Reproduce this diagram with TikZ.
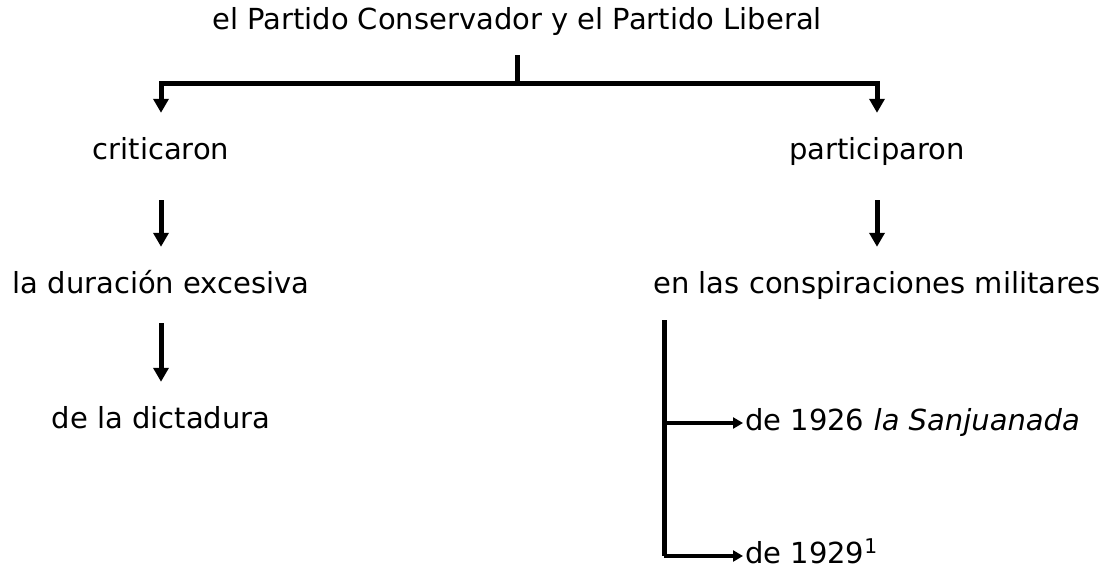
\documentclass[tikz,border=0pt]{standalone}
\usepackage{fontspec}
\setmainfont{DejaVu Sans}
\usetikzlibrary{positioning,arrows.meta}

\begin{document}
\begin{tikzpicture}[x=1pt,y=-1pt,
  lbl/.style={inner sep=0pt,anchor=base,text height=20pt,text depth=6pt,font=\fontsize{29}{34}\selectfont},
  stem/.style={line width=5pt},
  arr/.style={stem,-{Triangle[length=14pt,width=15pt]}},
  branch/.style={line width=3.5pt,-{Triangle[length=10pt,width=11pt]}}]
\useasboundingbox (0,0) rectangle (1110,569);
\node[lbl] (title) at (517,30) {el Partido Conservador y el Partido Liberal};
\node[lbl] (crit) at (161,160) {criticaron};
\node[lbl] (part) at (877,160) {participaron};
\node[lbl] (dur) at (161,293) {la duración excesiva};
\node[lbl] (consp) at (877,293) {en las conspiraciones militares};
\node[lbl] (dict) at (161,428) {de la dictadura};
\node[lbl,anchor=base west] (s1926) at (745,430) {de 1926 \textit{la Sanjuanada}};
\node[lbl,anchor=base west] (s1929) at (745,563) {de 1929\textsuperscript{1}};
\coordinate (split) at (517,84);
\coordinate (fork) at (664,320);
\coordinate (corner) at (fork |- s1929.west);
% top split
\draw[stem,shorten <=19pt] (title.south) -- (split);
\draw[arr,shorten >=27pt] (split) -| (crit.north);
\draw[arr,shorten >=27pt] (split) -| (part.north);
% left column
\draw[arr,shorten <=34pt,shorten >=26pt] (crit) -- (dur);
\draw[arr,shorten <=24pt,shorten >=26pt] (dur) -- (dict);
% right column
\draw[arr,shorten <=34pt,shorten >=26pt] (part) -- (consp);
\draw[stem] (fork) -- (corner);
\draw[branch,shorten >=2pt] (fork |- s1926.west) -- (s1926.west);
\draw[branch,shorten >=2pt] (corner) -- (s1929.west);
\end{tikzpicture}
\end{document}
